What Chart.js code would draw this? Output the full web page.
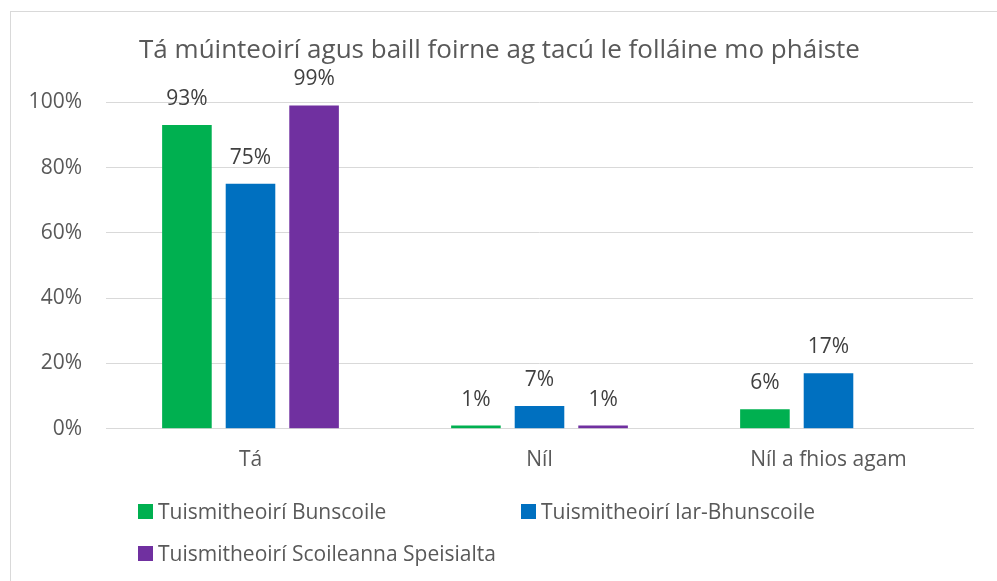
<!DOCTYPE html>
<html lang="ga">
<head>
  <meta charset="UTF-8">
  <title>Folláine mo pháiste</title>
  <script src="https://cdn.jsdelivr.net/npm/chart.js"></script>
  <style>
    html, body {
      margin: 0;
      padding: 0;
      background: #fff;
      overflow: hidden;
    }
    .frame {
      position: absolute;
      left: 10px;
      top: 11px;
      width: 1000px;
      height: 600px;
      border: 1px solid #d9d9d9;
    }
    .wrap {
      position: absolute;
      left: 0;
      top: 0;
      width: 997px;
      height: 581px;
    }
    .legend {
      position: absolute;
      left: 138px;
      top: 490px;
      display: grid;
      grid-template-columns: 383px auto;
      font-family: "Open Sans", sans-serif;
      font-size: 21px;
      color: #595959;
    }
    .legend div {
      height: 42px;
      display: flex;
      align-items: center;
      white-space: nowrap;
    }
    .legend span {
      display: inline-block;
      width: 15px;
      height: 15px;
      margin-right: 5px;
    }
  </style>
</head>
<body>
  <div class="frame"></div>
  <div class="wrap"><canvas id="chart"></canvas></div>
  <div class="legend" id="legend"></div>

  <script>
    // categories and series
    const categories = ['Tá', 'Níl', 'Níl a fhios agam'];
    const bunscoile = [93, 1, 6];
    const iarBhunscoile = [75, 7, 17];
    const speisialta = [99, 1, null];
    const seriesNames = ['Tuismitheoirí Bunscoile', 'Tuismitheoirí Iar-Bhunscoile', 'Tuismitheoirí Scoileanna Speisialta'];
    const seriesColors = ['#00B050', '#0070C0', '#7030A0'];
    const yTicks = [0, 20, 40, 60, 80, 100];

    const FONT = '"Open Sans", sans-serif';
    const TEXT = '#595959';

    // value labels above the bars
    const valueLabels = {
      id: 'valueLabels',
      afterDatasetsDraw(chart) {
        const ctx = chart.ctx;
        ctx.save();
        ctx.font = '21px ' + FONT;
        ctx.fillStyle = '#404040';
        ctx.textAlign = 'center';
        ctx.textBaseline = 'middle';
        chart.data.datasets.forEach((ds, i) => {
          chart.getDatasetMeta(i).data.forEach((bar, j) => {
            const v = ds.data[j];
            if (v === null || v === undefined) return;
            ctx.fillText(v + '%', bar.x, bar.y - 26);
          });
        });
        ctx.restore();
      }
    };

    const allSeries = [bunscoile, iarBhunscoile, speisialta];

    new Chart(document.getElementById('chart'), {
      type: 'bar',
      data: {
        labels: categories,
        datasets: allSeries.map((d, i) => ({
          label: seriesNames[i],
          data: d,
          backgroundColor: seriesColors[i],
          borderWidth: 0,
          categoryPercentage: 0.66,
          barPercentage: 0.78
        }))
      },
      options: {
        responsive: true,
        maintainAspectRatio: false,
        animation: false,
        layout: {
          padding: { left: 26, right: 24, top: 0, bottom: 89 }
        },
        plugins: {
          legend: { display: false },
          tooltip: { enabled: false },
          title: {
            display: true,
            text: 'Tá múinteoirí agus baill foirne ag tacú le folláine mo pháiste',
            color: TEXT,
            font: { family: FONT, size: 26, weight: 'normal' },
            padding: { top: 35, bottom: 36 }
          }
        },
        scales: {
          x: {
            grid: { display: false, drawTicks: false },
            border: { display: true, color: '#d9d9d9', width: 1 },
            ticks: { color: TEXT, font: { family: FONT, size: 21 }, padding: 19 }
          },
          y: {
            min: 0,
            max: 100,
            afterFit(scale) { scale.width = 80; },
            afterBuildTicks(scale) { scale.ticks = yTicks.map(v => ({ value: v })); },
            grid: { color: '#d9d9d9', drawTicks: false },
            border: { display: false },
            ticks: {
              color: TEXT,
              font: { family: FONT, size: 21 },
              padding: 24,
              callback: v => v + '%'
            }
          }
        }
      },
      plugins: [valueLabels]
    });

    // legend laid out in two columns like the original
    const legend = document.getElementById('legend');
    seriesNames.forEach((name, i) => {
      const item = document.createElement('div');
      const box = document.createElement('span');
      box.style.background = seriesColors[i];
      item.appendChild(box);
      item.appendChild(document.createTextNode(name));
      legend.appendChild(item);
    });
  </script>
</body>
</html>
